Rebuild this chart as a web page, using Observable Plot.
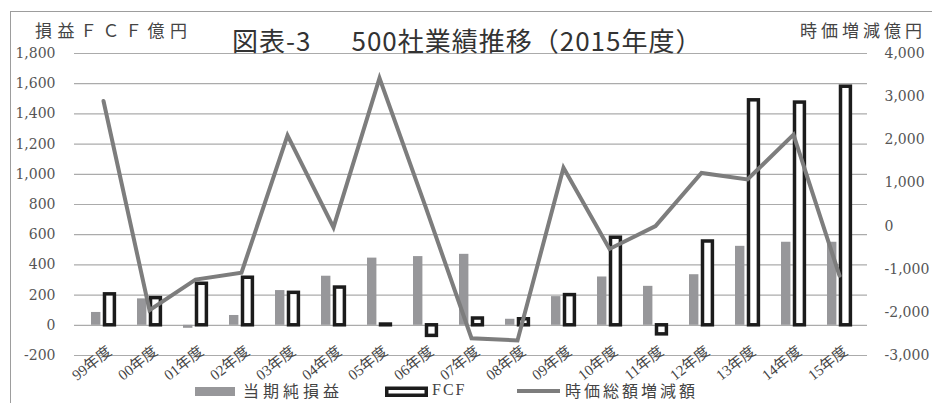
<!DOCTYPE html>
<html>
<head>
<meta charset="utf-8">
<script src="https://cdn.jsdelivr.net/npm/d3@7"></script>
<script src="https://cdn.jsdelivr.net/npm/@observablehq/plot@0.6"></script>
<style>
  html, body { margin: 0; padding: 0; background: #fff; }
  #wrap { position: relative; width: 932px; height: 403px; overflow: hidden; background: #fff; }
  #frame { position: absolute; left: 10px; top: 11px; width: 960px; height: 420px;
           border-left: 1.5px solid #9d9d9d; border-top: 1.5px solid #9d9d9d; }
  #chart { position: absolute; left: 0; top: 0; }
  .jp { position: absolute; font-family: "Noto Sans CJK JP", sans-serif; color: #3a3a3a; line-height: 1; white-space: nowrap; }
  #title { left: 232px; top: 27px; font-size: 26px; letter-spacing: 1px; color: #333; }
  #ltitle { left: 35px; top: 21px; font-size: 17px; letter-spacing: 5.5px; color: #444; }
  #rtitle { right: 6px; top: 21px; font-size: 17px; letter-spacing: 4px; color: #444; }
  .leg { position: absolute; top: 381px; height: 18px; }
  .leg span { position: absolute; top: 0; font-size: 16px; letter-spacing: 3px; color: #444; line-height: 18px; white-space: nowrap; }
</style>
</head>
<body>
<div id="wrap">
  <div id="frame"></div>
  <div id="chart"></div>
  <div id="title" class="jp">図表-3<span style="margin-left:40px">500社業績推移（2015年度）</span></div>
  <div id="ltitle" class="jp">損益ＦＣＦ億円</div>
  <div id="rtitle" class="jp">時価増減億円</div>
  <div id="legend"></div>
</div>
<script>
// Fiscal years on the category axis
const years = ["99年度","00年度","01年度","02年度","03年度","04年度","05年度","06年度","07年度",
               "08年度","09年度","10年度","11年度","12年度","13年度","14年度","15年度"];
// 当期純損益 (億円, left axis)
const netIncome = [85, 175, -20, 65, 230, 325, 445, 455, 470, 40, 190, 320, 258, 335, 523, 550, 550];
// FCF (億円, left axis)
const fcf = [205, 180, 275, 315, 215, 250, 5, -70, 45, 40, 200, 580, -60, 555, 1490, 1475, 1580];
// 時価総額増減額 (億円, right axis)
const capChange = [2900, -1950, -1240, -1080, 2100, -30, 3430, 450, -2600, -2650, 1350, -530, 0, 1230, 1080, 2120, -1150];
// Axis ticks
const leftTicks = [-200, 0, 200, 400, 600, 800, 1000, 1200, 1400, 1600, 1800];
const rightTicks = [-3000, -2000, -1000, 0, 1000, 2000, 3000, 4000];

// Right axis [-3000, 4000] shares the plot height with the left axis [-200, 1800]
const L0 = -200, L1 = 1800, R0 = -3000, R1 = 4000;
const toLeft = v => L0 + (v - R0) * (L1 - L0) / (R1 - R0);
const toRight = v => R0 + (v - L0) * (R1 - R0) / (L1 - L0);

const fmt = d3.formatLocale({decimal: ".", thousands: ",", grouping: [3], currency: ["", ""], minus: "-"}).format(",");

const rows = years.map((y, i) => ({year: y, net: netIncome[i], fcf: fcf[i], cap: toLeft(capChange[i])}));

const serif = "'DejaVu Serif', serif";
const labelFont = "'Liberation Serif', 'Noto Sans CJK JP', serif";

const chart = Plot.plot({
  width: 932,
  height: 403,
  marginTop: 53,
  marginBottom: 48,
  marginLeft: 74,
  marginRight: 65,
  style: {fontFamily: serif, fontSize: "14px", color: "#555", background: "transparent"},
  x: {domain: years, padding: 0, axis: null},
  y: {domain: [L0, L1], axis: null},
  marks: [
    Plot.ruleY(leftTicks, {stroke: "#ababab", strokeWidth: 1.2}),
    Plot.barY(rows, {x: "year", y: "net", fill: "#97979a", insetLeft: 11, insetRight: 25.6}),
    Plot.barY(rows, {x: "year", y: "fcf", fill: "#fff", stroke: "#1c1c1c", strokeWidth: 3.5, insetLeft: 24.5, insetRight: 11.6}),
    Plot.line(rows, {x: "year", y: "cap", stroke: "#7d7d7d", strokeWidth: 4, strokeLinejoin: "miter", strokeMiterlimit: 10}),
    Plot.axisY(leftTicks, {anchor: "left", tickSize: 0, tickPadding: 19, tickFormat: fmt, label: null}),
    Plot.axisY(rightTicks.map(toLeft), {anchor: "right", tickSize: 0, tickPadding: 17, label: null,
      tickFormat: d => fmt(Math.round(toRight(d)))}),
    Plot.text(years, {x: d => d, frameAnchor: "bottom", rotate: -38, textAnchor: "end", lineAnchor: "middle",
      dx: 6, dy: -6, fontSize: 15, fontFamily: labelFont, fill: "#444", letterSpacing: 2})
  ]
});
document.getElementById("chart").append(chart);

// Legend beneath the plot
const legend = document.getElementById("legend");
const items = [
  {left: 195, swatch: `<svg width="42" height="18"><rect x="0" y="6" width="40" height="9" fill="#97979a"/></svg>`, text: "当期純損益", textLeft: 48, font: "'Noto Sans CJK JP', sans-serif", ls: 4},
  {left: 385, swatch: `<svg width="46" height="18"><rect x="1.75" y="7.25" width="39.5" height="7" fill="#fff" stroke="#1c1c1c" stroke-width="3.5"/></svg>`, text: "FCF", textLeft: 47, font: "'Liberation Serif', serif", ls: 2},
  {left: 517, swatch: `<svg width="44" height="18"><line x1="0" y1="10" x2="43" y2="10" stroke="#7d7d7d" stroke-width="4"/></svg>`, text: "時価総額増減額", textLeft: 48, font: "'Noto Sans CJK JP', sans-serif", ls: 3}
];
for (const it of items) {
  const d = document.createElement("div");
  d.className = "leg";
  d.style.left = it.left + "px";
  d.innerHTML = `<span style="left:0">${it.swatch}</span><span style="left:${it.textLeft}px;font-family:${it.font};letter-spacing:${it.ls}px">${it.text}</span>`;
  legend.append(d);
}
</script>
</body>
</html>
